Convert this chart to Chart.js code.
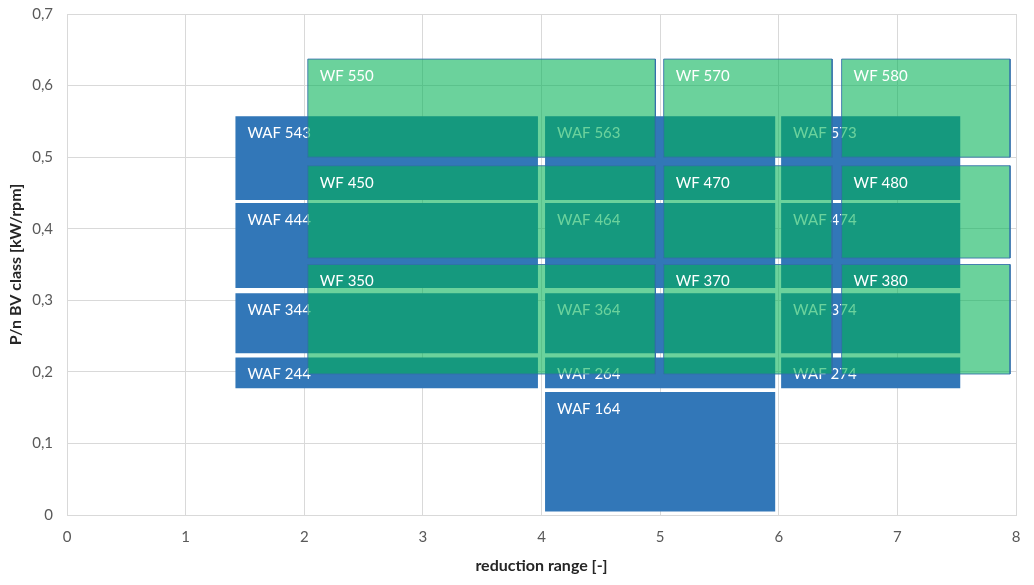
<!DOCTYPE html>
<html>
<head>
<meta charset="utf-8">
<script src="https://cdn.jsdelivr.net/npm/chart.js@4.4.1/dist/chart.umd.min.js"></script>
<style>
  html, body { margin: 0; padding: 0; background: #ffffff; }
  #wrap { width: 1034px; height: 585px; position: relative; }
</style>
</head>
<body>
<div id="wrap"><canvas id="c" width="1034" height="585"></canvas></div>
<script>
// ---- WAF (blue) rectangles ----
const wafLabels = ['WAF 543', 'WAF 444', 'WAF 344', 'WAF 244',
                   'WAF 563', 'WAF 464', 'WAF 364', 'WAF 264', 'WAF 164',
                   'WAF 573', 'WAF 474', 'WAF 374', 'WAF 274'];
const wafXStart = [1.42, 1.42, 1.42, 1.42,
                   4.03, 4.03, 4.03, 4.03, 4.03,
                   6.02, 6.02, 6.02, 6.02];
const wafXEnd   = [3.97, 3.97, 3.97, 3.97,
                   5.97, 5.97, 5.97, 5.97, 5.97,
                   7.53, 7.53, 7.53, 7.53];
const wafYLow   = [0.440, 0.317, 0.226, 0.177,
                   0.440, 0.317, 0.226, 0.177, 0.005,
                   0.440, 0.317, 0.226, 0.177];
const wafYHigh  = [0.557, 0.436, 0.310, 0.220,
                   0.557, 0.436, 0.310, 0.220, 0.172,
                   0.557, 0.436, 0.310, 0.220];

// ---- WF (green) rectangles ----
const wfLabels = ['WF 550', 'WF 570', 'WF 580',
                  'WF 450', 'WF 470', 'WF 480',
                  'WF 350', 'WF 370', 'WF 380'];
const wfXStart = [2.03, 5.03, 6.53, 2.03, 5.03, 6.53, 2.03, 5.03, 6.53];
const wfXEnd   = [4.96, 6.45, 7.95, 4.96, 6.45, 7.95, 4.96, 6.45, 7.95];
const wfYLow   = [0.500, 0.500, 0.500, 0.359, 0.359, 0.359, 0.197, 0.197, 0.197];
const wfYHigh  = [0.637, 0.637, 0.637, 0.488, 0.488, 0.488, 0.350, 0.350, 0.350];

// ---- axes ----
const xTicks = [0, 1, 2, 3, 4, 5, 6, 7, 8];
const yTicks = [0, 0.1, 0.2, 0.3, 0.4, 0.5, 0.6, 0.7];
const xTitle = 'reduction range [-]';
const yTitle = 'P/n BV class [kW/rpm]';

const BLUE = '#3277b8';
const GREEN = 'rgba(0,178,84,0.58)';
const GREEN_BORDER = 'rgba(50,110,170,0.85)';
const FONT = 'Lato, "Open Sans", sans-serif';

function rectPoly(x0, x1, y0, y1) {
  return [{x: x0, y: y0}, {x: x0, y: y1}, {x: x1, y: y1}, {x: x1, y: y0}, {x: x0, y: y0}];
}

const datasets = [];
wafLabels.forEach((lab, i) => {
  datasets.push({
    label: lab, kind: 'waf', idx: i,
    data: rectPoly(wafXStart[i], wafXEnd[i], wafYLow[i], wafYHigh[i]),
    showLine: true, fill: 'shape', tension: 0,
    backgroundColor: BLUE, borderColor: BLUE, borderWidth: 0,
    pointRadius: 0, pointHoverRadius: 0, order: 2
  });
});
wfLabels.forEach((lab, i) => {
  datasets.push({
    label: lab, kind: 'wf', idx: i,
    data: rectPoly(wfXStart[i], wfXEnd[i], wfYLow[i], wfYHigh[i]),
    showLine: true, fill: 'shape', tension: 0,
    backgroundColor: GREEN, borderColor: GREEN_BORDER, borderWidth: 1,
    pointRadius: 0, pointHoverRadius: 0, order: 1
  });
});

function drawLabel(chart, text, x0, y1) {
  const ctx = chart.ctx;
  const xs = chart.scales.x, ys = chart.scales.y;
  const px = xs.getPixelForValue(x0) + 12;
  const py = ys.getPixelForValue(y1) + 17;
  ctx.save();
  ctx.fillStyle = '#ffffff';
  ctx.font = '15px ' + FONT;
  ctx.textAlign = 'left';
  ctx.textBaseline = 'middle';
  ctx.fillText(text, px, py);
  ctx.restore();
}

const labelPlugin = {
  id: 'rectLabels',
  afterDatasetDraw(chart, args) {
    const ds = chart.data.datasets[args.index];
    if (ds.kind === 'waf') {
      drawLabel(chart, wafLabels[ds.idx], wafXStart[ds.idx], wafYHigh[ds.idx]);
    }
  },
  afterDatasetsDraw(chart) {
    wfLabels.forEach((lab, i) => drawLabel(chart, lab, wfXStart[i], wfYHigh[i]));
  }
};

new Chart(document.getElementById('c'), {
  type: 'scatter',
  data: { datasets },
  options: {
    responsive: false,
    animation: false,
    events: [],
    layout: { padding: { top: 14, right: 18, left: 0, bottom: 0 } },
    plugins: { legend: { display: false }, tooltip: { enabled: false } },
    scales: {
      x: {
        type: 'linear', min: 0, max: 8,
        afterBuildTicks: s => { s.ticks = xTicks.map(v => ({value: v})); },
        afterFit: s => { s.height = 70; s.paddingLeft = 0; s.paddingRight = 0; },
        grid: { color: '#d9d9d9', drawTicks: false, lineWidth: 1 },
        border: { color: '#d9d9d9' },
        ticks: { color: '#595959', font: { family: FONT, size: 15 }, padding: 13,
                 callback: v => String(v) },
        title: { display: true, text: xTitle, color: '#262626',
                 font: { family: FONT, size: 16, weight: 'bold' }, padding: { top: 4, bottom: 10 } }
      },
      y: {
        type: 'linear', min: 0, max: 0.7,
        afterBuildTicks: s => { s.ticks = yTicks.map(v => ({value: v})); },
        afterFit: s => { s.width = 67; s.paddingTop = 0; s.paddingBottom = 0; },
        grid: { color: '#d9d9d9', drawTicks: false, lineWidth: 1 },
        border: { color: '#d9d9d9' },
        ticks: { color: '#595959', font: { family: FONT, size: 15 }, padding: 14,
                 callback: v => v === 0 ? '0' : Number(v).toFixed(1).replace('.', ',') },
        title: { display: true, text: yTitle, color: '#262626',
                 font: { family: FONT, size: 16, weight: 'bold' }, padding: { top: 6, bottom: 0 } }
      }
    }
  },
  plugins: [labelPlugin]
});
</script>
</body>
</html>
